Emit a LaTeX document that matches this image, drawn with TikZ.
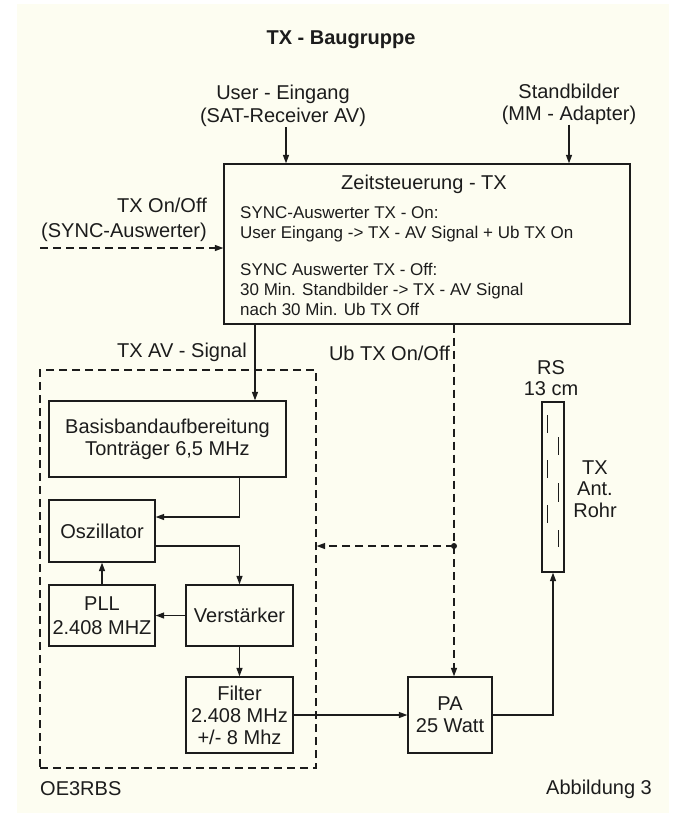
\documentclass[tikz,border=0pt]{standalone}
\usepackage{fontspec}
\setmainfont{Liberation Sans}
\usetikzlibrary{arrows.meta}
\definecolor{cream}{RGB}{253,253,241}
\definecolor{ink}{RGB}{28,28,28}
\begin{document}
\begin{tikzpicture}[x=1pt,y=-1pt,
  every node/.style={text=ink},
  lbl/.style={font=\fontsize{20}{22}\selectfont, align=center, inner sep=0pt},
  sml/.style={font=\fontsize{17}{20}\selectfont, align=left, inner sep=0pt, anchor=west},
  blk/.style={draw=ink, line width=1.3pt, inner sep=0pt, align=center,
              font=\fontsize{20}{22}\selectfont},
  arr/.style={draw=ink, line width=1.3pt, -{Triangle[length=8.5pt,width=6pt]}},
  ln/.style={draw=ink, line width=1.3pt},
  dsh/.style={dash pattern=on 8pt off 5pt}]
\useasboundingbox (0,0) rectangle (674,814);
\fill[cream] (17,4) rectangle (669,813);

% title and inputs
\node[lbl, font=\bfseries\fontsize{20}{22}\selectfont] (title) at (341,40) {TX - Baugruppe};
\node[lbl, font=\fontsize{20}{23}\selectfont] (user) at (283,106) {User - Eingang\\(SAT-Receiver AV)};
\node[lbl] (std) at (569,104) {Standbilder\\(MM - Adapter)};
\node[lbl, align=right, anchor=east, font=\fontsize{20}{25}\selectfont] (txon) at (207,220) {TX On/Off\\(SYNC-Auswerter)};

% Zeitsteuerung
\node[blk, minimum width=406, minimum height=160] (zeit) at (427,244) {};
\node[lbl] (zt) at (424,184) {Zeitsteuerung - TX};
\node[sml] (zon) at (240,224) {SYNC-Auswerter TX - On:\\User Eingang -> TX - AV Signal + Ub TX On};
\node[sml] (zoff) at (240,289) {SYNC Auswerter TX - Off:\\30 Min. Standbilder -> TX - AV Signal\\nach 30 Min. Ub TX Off};

% labels
\node[lbl, anchor=east] (avl) at (247,352) {TX AV - Signal};
\node[lbl, anchor=east] (ubl) at (450,353) {Ub TX On/Off};

% dashed group
\node[draw=ink, line width=1.3pt, dsh, minimum width=276, minimum height=398, inner sep=0pt] (grp) at (178,569) {};

% blocks
\node[blk, minimum width=237, minimum height=76] (basis) at (167.5,439) {Basisbandaufbereitung\\Tonträger 6,5 MHz};
\node[blk, minimum width=106, minimum height=62] (osz) at (102,531) {Oszillator};
\node[blk, minimum width=106, minimum height=61, font=\fontsize{20}{24}\selectfont] (pll) at (102,615.5) {PLL\\2.408 MHZ};
\node[blk, minimum width=107, minimum height=61] (verst) at (239.5,615.5) {Verstärker};
\node[blk, minimum width=107, minimum height=76] (filter) at (239.5,715) {Filter\\2.408 MHz\\+/- 8 Mhz};
\node[blk, minimum width=84, minimum height=76] (pa) at (450,715) {PA\\25 Watt};
\node[blk, minimum width=22, minimum height=170] (ant) at (553,487) {};

% antenna inner dashes
\foreach \a/\b in {415/433,460/478,505/523} \draw[ln, line width=1pt] (547,\a) -- (547,\b);
\foreach \a/\b in {437/455,483/502,530/547} \draw[ln, line width=1pt] (558,\a) -- (558,\b);
\node[lbl, font=\fontsize{20}{21}\selectfont] (rs) at (551,378) {RS\\13 cm};
\node[lbl, font=\fontsize{20}{21.5}\selectfont] (antl) at (595,489) {TX\\Ant.\\Rohr};

% footer
\node[lbl, anchor=west] (oe) at (40,789) {OE3RBS};
\node[lbl] (abb) at (599,789) {Abbildung 3};

% connectors
\coordinate (uin) at ([xshift=3pt]user.south);
\draw[arr] (uin) -- (uin |- zeit.north);
\draw[arr] (std.south) -- (std.south |- zeit.north);
\coordinate (txs) at (40,248);
\draw[arr, dsh] (txs) -- (txs -| zeit.west);

\coordinate (cav) at (255,330);
\draw[arr] (zeit.south -| cav) -- (basis.north -| cav);

\coordinate (jn) at (454,546);
\draw[ln, dsh] (zeit.south -| jn) -- (jn);
\draw[arr, dsh] (jn) -- (pa.north -| jn);
\draw[arr, dsh] (jn) -- (grp.east |- jn);
\fill[ink] (jn) circle (3);

\draw[arr] (basis.south -| verst.north) |- ([yshift=14pt]osz.east);
\draw[arr] ([yshift=-15pt]osz.east) -| (verst.north);
\draw[arr] (pll.north) -- (osz.south);
\draw[arr] (verst.west) -- (pll.east);
\draw[arr] (verst.south) -- (filter.north);
\draw[arr] (filter.east) -- (pa.west);
\draw[arr] (pa.east) -| (ant.south);
\end{tikzpicture}
\end{document}
